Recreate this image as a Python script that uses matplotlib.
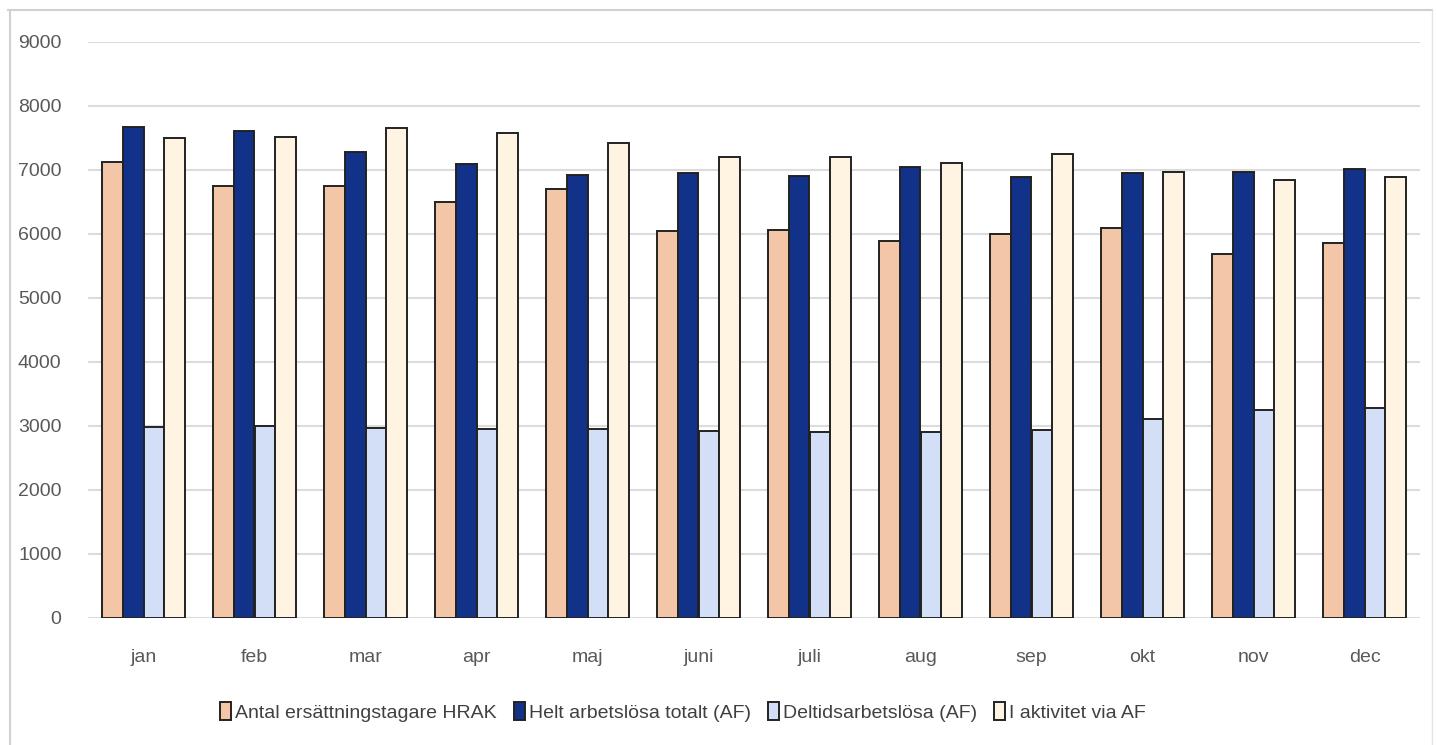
import matplotlib
matplotlib.use("Agg")
import matplotlib.pyplot as plt
import numpy as np
from matplotlib.lines import Line2D

months = ["jan", "feb", "mar", "apr", "maj", "juni", "juli", "aug", "sep", "okt", "nov", "dec"]
hrak = [7130, 6755, 6755, 6505, 6710, 6050, 6060, 5895, 6005, 6100, 5690, 5858]
helt = [7667, 7609, 7281, 7089, 6925, 6947, 6910, 7052, 6885, 6958, 6974, 7010]
deltid = [2990, 3000, 2964, 2955, 2950, 2922, 2900, 2900, 2930, 3105, 3255, 3287]
aktivitet = [7505, 7520, 7651, 7583, 7415, 7200, 7200, 7110, 7253, 6963, 6842, 6890]
series_names = ["Antal ersättningstagare HRAK", "Helt arbetslösa totalt (AF)",
                "Deltidsarbetslösa (AF)", "I aktivitet via AF"]
colors = ["#F4C6A8", "#12328A", "#D3DFF7", "#FFF4E2"]
yticks = [0, 1000, 2000, 3000, 4000, 5000, 6000, 7000, 8000, 9000]

plt.rcParams["font.family"] = ["Liberation Sans", "DejaVu Sans"]

W, H = 1436, 745
fig = plt.figure(figsize=(W / 100, H / 100), dpi=100)
ax = fig.add_axes([88 / W, 1 - 618 / H, (1420 - 88) / W, (618 - 42) / H])

x = np.arange(len(months))
bw = 0.185
data = [hrak, helt, deltid, aktivitet]
for i, (vals, c, name) in enumerate(zip(data, colors, series_names)):
    ax.bar(x + (i - 1.5) * bw, vals, width=bw, color=c, edgecolor="#222222",
           linewidth=1.4, label=name, zorder=3)

ax.set_ylim(0, 9000)
ax.set_xlim(-0.5, len(months) - 0.5)
ax.set_yticks(yticks)
ax.set_yticklabels([str(v) for v in yticks])
ax.set_xticks(x)
ax.set_xticklabels(months)
ax.yaxis.grid(True, color="#DCDCDC", linewidth=1.5, zorder=0)
ax.set_axisbelow(True)
for s in ax.spines.values():
    s.set_visible(False)
ax.tick_params(axis="both", length=0, colors="#595959", labelsize=14)
ax.tick_params(axis="y", pad=19)
ax.tick_params(axis="x", pad=22)

handles = [plt.Rectangle((0, 0), 1, 1, facecolor=c, edgecolor="#222222", linewidth=1.4)
           for c in colors]
leg = fig.legend(handles, series_names, loc="center", bbox_to_anchor=(683 / W, 1 - 712 / H),
                 ncol=4, frameon=False, fontsize=14, handlelength=0.55, handleheight=1.0,
                 handletextpad=0.2, columnspacing=0.9)
for t in leg.get_texts():
    t.set_color("#404040")

# chart area border
fig.add_artist(Line2D([8 / W, 1432 / W], [1 - 10 / H, 1 - 10 / H], color="#D0D0D0", linewidth=1.5))
fig.add_artist(Line2D([10 / W, 10 / W], [1 - 10 / H, 0], color="#D0D0D0", linewidth=1.5))
fig.add_artist(Line2D([1432 / W, 1432 / W], [1 - 10 / H, 0], color="#E4E4E4", linewidth=1.0))

fig.savefig("out.png", dpi=100, facecolor="white")
